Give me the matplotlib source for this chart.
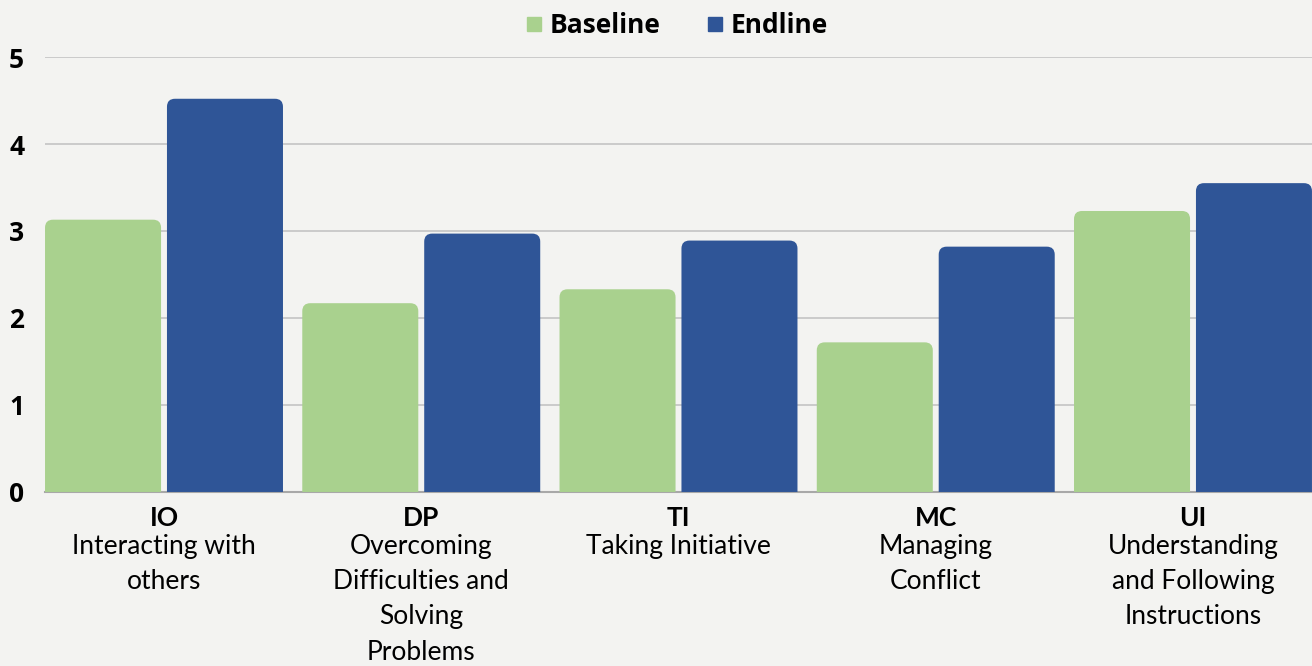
import numpy as np
import matplotlib
matplotlib.use('Agg')
import matplotlib.pyplot as plt
from matplotlib.path import Path
from matplotlib.patches import PathPatch
from matplotlib.lines import Line2D

codes = ['IO', 'DP', 'TI', 'MC', 'UI']
descriptions = ['Interacting with\nothers',
                'Overcoming\nDifficulties and\nSolving\nProblems',
                'Taking Initiative',
                'Managing\nConflict',
                'Understanding\nand Following\nInstructions']
baseline = [3.13, 2.17, 2.33, 1.72, 3.23]
endline = [4.52, 2.97, 2.89, 2.82, 3.55]
series_names = ['Baseline', 'Endline']
colors = ['#a9d18e', '#2f5597']
bg = '#f3f3f1'


def rounded_top(ax, patch, rpx=8):
    # swap a plain bar for one with rounded top corners
    x0, y0 = patch.get_x(), patch.get_y()
    w, h = patch.get_width(), patch.get_height()
    p0 = ax.transData.transform((0, 0))
    p1 = ax.transData.transform((1, 1))
    rx = min(rpx / (p1[0] - p0[0]), w / 2)
    ry = min(rpx / (p1[1] - p0[1]), h / 2)
    x1, y1 = x0 + w, y0 + h
    verts = [(x0, y0), (x0, y1 - ry), (x0, y1), (x0 + rx, y1),
             (x1 - rx, y1), (x1, y1), (x1, y1 - ry), (x1, y0), (x0, y0)]
    cmds = [Path.MOVETO, Path.LINETO, Path.CURVE3, Path.CURVE3,
            Path.LINETO, Path.CURVE3, Path.CURVE3, Path.LINETO, Path.CLOSEPOLY]
    ax.add_patch(PathPatch(Path(verts, cmds), facecolor=patch.get_facecolor(),
                           edgecolor='none', zorder=3))
    patch.remove()


fig = plt.figure(figsize=(13.12, 6.66), dpi=100, facecolor=bg)
ax = fig.add_axes([0.0343, 0.2613, 0.9657, 0.6531])
ax.set_facecolor(bg)

x = np.arange(len(codes))
width = 0.451
off = 0.237
ax.set_xlim(-0.4626, len(codes) - 1 + 0.4626)
ax.set_ylim(0, 5)

bars_b = ax.bar(x - off, baseline, width, color=colors[0], zorder=3)
bars_e = ax.bar(x + off, endline, width, color=colors[1], zorder=3)
for p in list(bars_b) + list(bars_e):
    rounded_top(ax, p)

ax.set_yticks(range(0, 6))
ax.yaxis.grid(True, color='#c4c4c4', linewidth=1.2, zorder=0)
ax.set_axisbelow(True)
ax.tick_params(axis='y', length=0, pad=15, labelsize=19)
for t in ax.get_yticklabels():
    t.set_fontfamily('Open Sans')
    t.set_fontweight('bold')
ax.set_xticks([])
for s in ['top', 'right', 'left']:
    ax.spines[s].set_visible(False)
ax.spines['bottom'].set_color('#a8a8a8')
ax.spines['bottom'].set_linewidth(1.5)

for i in range(len(codes)):
    ax.annotate(codes[i], (x[i], 0), xycoords=('data', 'axes fraction'),
                xytext=(0, -10), textcoords='offset points', ha='center', va='top',
                fontsize=19, fontweight='bold', family='Lato', color='black')
    ax.annotate(descriptions[i], (x[i], 0), xycoords=('data', 'axes fraction'),
                xytext=(0, -30), textcoords='offset points', ha='center', va='top',
                fontsize=19, family='Lato', color='black', linespacing=1.52)

handles = [Line2D([], [], marker='s', linestyle='none', markersize=10,
                  markerfacecolor=c, markeredgecolor=c) for c in colors]
fig.legend(handles, series_names, loc='upper center', bbox_to_anchor=(0.513, 1.018),
           ncol=2, frameon=False, handletextpad=-0.02, handlelength=1.2, columnspacing=1.5,
           prop={'family': 'Open Sans', 'weight': 'bold', 'size': 19})

fig.savefig('out.png', dpi=100, facecolor=bg)
